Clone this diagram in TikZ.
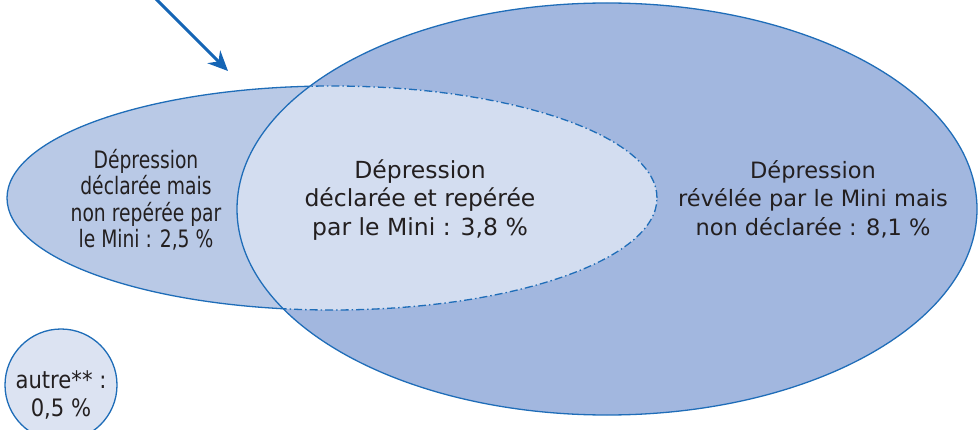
\documentclass[tikz,border=0pt]{standalone}
\usepackage{fontspec}
\setmainfont{DejaVu Sans}
\newfontfamily\narrowfont[FakeStretch=0.78]{DejaVu Sans}
\newfontfamily\otherfont[FakeStretch=0.88]{DejaVu Sans}
\usepackage{xcolor}
\usepackage{tikz}
\usetikzlibrary{positioning, shapes, arrows.meta}

\definecolor{revcol}{HTML}{A2B7DF}
\definecolor{declcol}{HTML}{B9C9E6}
\definecolor{bothcol}{HTML}{D3DDF0}
\definecolor{othercol}{HTML}{DCE3F2}
\definecolor{linecol}{HTML}{1F6DB8}
\definecolor{arrowcol}{HTML}{1565B5}
\definecolor{txtcol}{HTML}{231F20}

\begin{document}
\begin{tikzpicture}[
		x=1pt, y=-1pt,
		outline/.style={draw=linecol, line width=1.3pt},
		dashdot/.style={draw=linecol, line width=1.3pt, dash pattern=on 8pt off 3pt on 1.5pt off 3pt},
		venntext/.style={align=center, text=txtcol, inner sep=0pt, font=\fontsize{#1}{28.5}\selectfont},
		narrowtext/.style={align=center, text=txtcol, inner sep=0pt, font=\narrowfont\fontsize{#1}{26.5}\selectfont},
		othertext/.style={align=center, text=txtcol, inner sep=0pt, font=\otherfont\fontsize{#1}{27.5}\selectfont},
		pointer/.style={draw=arrowcol, line width=3pt, -{Stealth[length=20pt, width=18pt]}}
		]
		
		\useasboundingbox (0,0) rectangle (979,430);
		
		% Centres of the two sets
		\coordinate (revc) at (607,209);
		\coordinate (declc) at (332,198);
		
		% Fills: revealed, declared, then the overlap
		\fill[revcol] (revc) ellipse [x radius=370pt, y radius=206pt];
		\fill[declcol] (declc) ellipse [x radius=325pt, y radius=112pt];
		\begin{scope}
			\clip (revc) ellipse [x radius=370pt, y radius=206pt];
			\fill[bothcol] (declc) ellipse [x radius=325pt, y radius=112pt];
			\draw[dashdot] (declc) ellipse [x radius=325pt, y radius=112pt];
		\end{scope}
		\begin{scope}[even odd rule]
			\clip (-20,-20) rectangle (1000,450) (revc) ellipse [x radius=370pt, y radius=206pt];
			\draw[outline] (declc) ellipse [x radius=325pt, y radius=112pt];
		\end{scope}
		\draw[outline] (revc) ellipse [x radius=370pt, y radius=206pt];
		
		% Texts of the three regions
		\node[narrowtext=24] (decl) at (146,200) {Dépression\\déclarée mais\\non repérée par\\le Mini : 2,5 \%};
		\node[venntext=23.5] (both) at (420,200) {Dépression\\déclarée et repérée\\par le Mini : 3,8 \%};
		\node[venntext=22.5] (rev) at (813,199) {Dépression\\révélée par le Mini mais\\non déclarée : 8,1 \%};
		
		% Small circle for the rest
		\node[circle, fill=othercol, outline, minimum size=112pt, inner sep=0pt] (other) at (61,385) {};
		\node[othertext=24] (othertxt) at (61,395) {autre** :\\0,5 \%};
		
		% Arrow coming in from the top
		\coordinate (arrowstart) at (148,-9);
		\coordinate (arrowtip) at (228,71);
		\draw[pointer] (arrowstart) -- (arrowtip);
		
	\end{tikzpicture}
\end{document}
